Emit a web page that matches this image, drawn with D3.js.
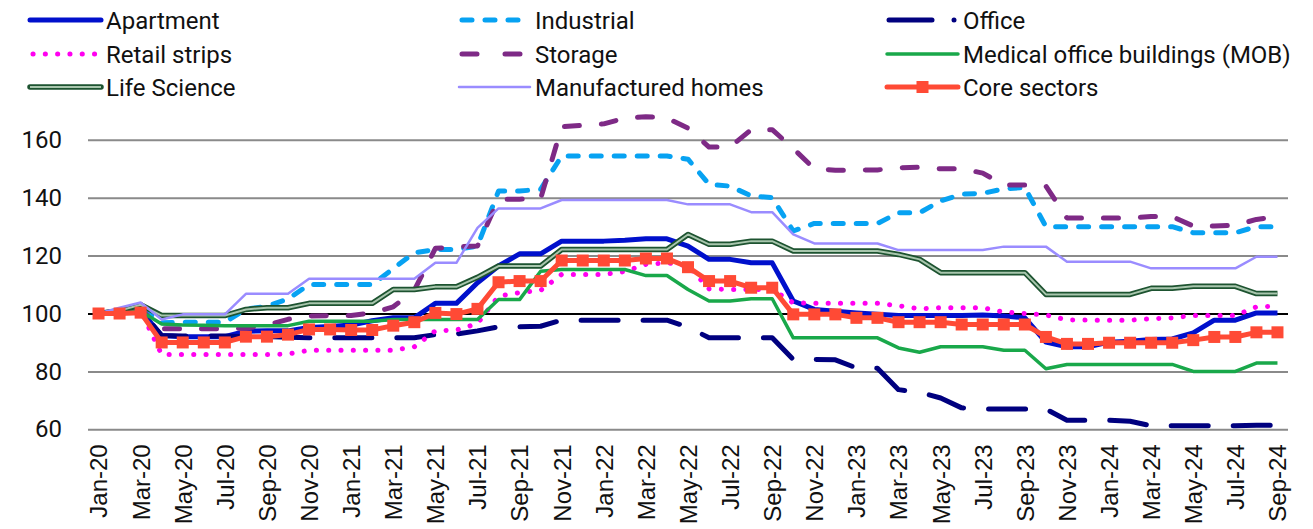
<!DOCTYPE html>
<html>
<head>
<meta charset="utf-8">
<script src="https://cdn.jsdelivr.net/npm/d3@7"></script>
<style>
  html, body { margin: 0; padding: 0; background: #fff; }
  svg { display: block; }
</style>
</head>
<body>
<div id="chart"></div>
<script>
// ---- data (monthly index, Jan-20 = 100) ----
const months = ["Jan-20","Feb-20","Mar-20","Apr-20","May-20","Jun-20","Jul-20","Aug-20","Sep-20","Oct-20","Nov-20","Dec-20",
  "Jan-21","Feb-21","Mar-21","Apr-21","May-21","Jun-21","Jul-21","Aug-21","Sep-21","Oct-21","Nov-21","Dec-21",
  "Jan-22","Feb-22","Mar-22","Apr-22","May-22","Jun-22","Jul-22","Aug-22","Sep-22","Oct-22","Nov-22","Dec-22",
  "Jan-23","Feb-23","Mar-23","Apr-23","May-23","Jun-23","Jul-23","Aug-23","Sep-23","Oct-23","Nov-23","Dec-23",
  "Jan-24","Feb-24","Mar-24","Apr-24","May-24","Jun-24","Jul-24","Aug-24","Sep-24"];

const apartment = [100,100.5,101,92.4,92,92,92,93.9,94,94,95.2,95.5,96,97.5,98.5,98.5,103.5,103.5,110.6,116.4,120.6,120.6,125,125,
  125,125.3,125.8,125.8,123.3,118.7,118.7,117.5,117.5,104.3,101.4,100.8,100.2,99.7,99.3,99.3,99.3,99.3,99.5,99.1,98.5,90.1,88.5,88.5,
  90.1,90.4,91,91.2,93.3,97.7,97.7,100.2,100.2];
const industrial = [100,101,102,96.8,97,97,97,101.5,102.5,105,110,110,110,110,115.5,121,122.1,122.1,123.3,142.3,142.3,142.9,154.4,154.4,
  154.4,154.4,154.4,154.4,153.3,144.6,144,140.6,140,128.5,131.1,131.1,131.1,131.1,134.8,134.8,138.9,141.2,141.5,143.1,143.5,130,130,130,
  130,130,130,130,127.9,127.9,127.9,130,130];
const office = [100,100.5,101,92.4,92.2,92.2,92.2,92,92,91.8,91.6,91.6,91.6,91.6,91.6,91.6,92.7,92.9,94,95.4,95.4,95.6,97.7,97.7,
  97.7,97.7,97.7,97.7,95.3,91.6,91.6,91.6,91.6,84.1,84.1,84,81.2,81.1,73.7,72.8,70.8,67.4,67,67,67,67,63.1,63.1,
  63.1,62.8,61.2,61.2,61.2,61.2,61.2,61.4,61.4];
const retail = [100,100.5,101,85.8,85.8,85.8,85.8,85.8,85.8,86,87.3,87.3,87.3,87.3,87.3,88.5,94,94.3,96.5,106,107.2,108,113.5,113.5,
  113.5,114.5,117,117.5,116.5,108.5,108.3,108.3,108.3,103.7,103.5,103.5,103.5,103.5,102.7,101.6,102,102,102,100.5,100,99.5,97.8,97.7,
  97.7,97.7,98.2,98.5,99.3,99.3,99.3,102.3,102.5];
const storage = [100,101,101.5,94.7,94.7,94.7,94.7,95,96,98,99.1,99.3,99.3,100.2,102.3,108,122.5,123,123.3,139.5,139.5,139.7,164.5,165,
  165.5,167.5,168,167.5,164,157.5,157.5,163.5,163.5,157,150,149.5,149.5,149.6,150.3,150.5,150,150,148.5,144.4,144.4,144,133,133,
  133,133,133.5,133.5,130.2,130.2,130.5,132.5,133.5];
const mob = [100,100.3,100.8,96.4,96,95.9,95.8,95.8,95.8,95.8,97.3,97.3,97.3,97.3,97.9,97.9,97.9,97.9,97.9,104.8,104.8,114.6,115.2,115.2,
  115.2,115.2,113.1,113.1,108.3,104.3,104.3,105.1,105.1,91.6,91.6,91.6,91.6,91.6,88.1,86.6,88.5,88.5,88.5,87.3,87.3,80.9,82.4,82.4,
  82.4,82.4,82.4,82.4,80,80,80,82.9,82.9];
const lifeScience = [100,101,103,99.3,99.3,99.3,99.3,101.4,102,102,103.5,103.5,103.5,103.5,108.3,108.3,109.2,109.2,112.5,116.4,116.4,116.4,122.1,122.1,
  122.1,122.1,122.1,122.1,127.3,123.9,123.9,125,125,121.6,121.6,121.6,121.6,121.6,120.4,118.7,114.1,114.1,114.1,114.1,114.1,106.6,106.6,106.6,
  106.6,106.6,108.7,108.7,109.4,109.4,109.4,106.9,106.9];
const manufactured = [100,102,103.8,97.9,99.7,99.7,99.7,106.8,106.8,106.8,112,112,112,112,112,112,117.5,117.5,129.6,136.3,136.3,136.3,139.2,139.2,
  139.2,139.2,139.2,139.2,137.7,137.7,137.7,135,135,127.3,124.2,124.2,124.2,124.2,121.9,121.9,121.9,121.9,121.9,123.1,123.1,123.1,117.9,117.9,
  117.9,117.9,115.6,115.6,115.6,115.6,115.6,119.6,119.6];
const core = [100,100,100.3,90,90,90,90,92,92,92.7,94.5,94.5,94.3,94.3,95.8,97,100.2,99.8,101.6,110.8,111.2,111.2,118.3,118.3,
  118.3,118.3,119,119,116,111.2,111.2,108.9,108.9,99.7,99.7,99.7,98.5,98.5,97,97,97,96.2,96.2,96.2,96.2,91.9,89.5,89.5,
  89.9,89.9,89.9,89.9,90.8,91.9,91.9,93.5,93.5];

const yTicks = [60, 80, 100, 120, 140, 160];
const xTickLabels = months.filter((d, i) => i % 2 === 0);

/***** series styling *****/
const series = [
  {name: "Apartment", values: apartment, color: "#0010CC", width: 5, dash: null},
  {name: "Industrial", values: industrial, color: "#07A2F2", width: 5, dash: "10,13"},
  {name: "Office", values: office, color: "#00007F", width: 5, dash: "37,25"},
  {name: "Retail strips", values: retail, color: "#FF00F0", width: 5, dash: "0.1,12.2"},
  {name: "Storage", values: storage, color: "#7E2A86", width: 5, dash: "15,22"},
  {name: "Medical office buildings (MOB)", values: mob, color: "#19A84A", width: 3.5, dash: null},
  {name: "Life Science", values: lifeScience, color: "#1D5330", width: 5.5, dash: null, inner: "#A8C6AD"},
  {name: "Manufactured homes", values: manufactured, color: "#9A8CFF", width: 2.5, dash: null},
  {name: "Core sectors", values: core, color: "#FF4A35", width: 5, dash: null, marker: true}
];
// legend order (row-major, 3 columns)
const legendOrder = ["Apartment","Industrial","Office","Retail strips","Storage","Medical office buildings (MOB)",
  "Life Science","Manufactured homes","Core sectors"];

/***** basic setup *****/
const width = 1313, height = 529;
const plotLeft = 88, plotRight = 1288;

const svg = d3.select("#chart").append("svg")
  .attr("width", width)
  .attr("height", height);

const x = d3.scalePoint()
  .domain(months)
  .range([plotLeft, plotRight])
  .padding(0.5);

const y = d3.scaleLinear()
  .domain([60, 160])
  .range([429.3, 139.8]);

/***** gridlines + y axis *****/
const yAxis = svg.append("g")
  .attr("transform", `translate(${plotLeft},0)`)
  .call(d3.axisLeft(y)
    .tickValues(yTicks)
    .tickSize(-(plotRight - plotLeft))
    .tickPadding(26));
yAxis.select(".domain").remove();
yAxis.selectAll("line")
  .attr("stroke", d => d === 100 ? "#000" : "#8a8a8a")
  .attr("stroke-width", d => d === 100 ? 2.2 : 2);
yAxis.selectAll("text")
  .style("font-family", "Roboto, sans-serif")
  .style("font-size", "24px")
  .attr("fill", "#111");

/***** x axis labels *****/
const xAxis = svg.append("g")
  .attr("transform", `translate(0,${y(60)})`)
  .call(d3.axisBottom(x).tickValues(xTickLabels).tickSize(0).tickPadding(0));
xAxis.select(".domain").remove();
xAxis.selectAll("text")
  .attr("transform", "translate(0,15) rotate(-90)")
  .attr("x", 0)
  .attr("y", 0)
  .attr("dy", "0.35em")
  .style("text-anchor", "end")
  .style("font-family", "'Liberation Sans', Arial, sans-serif")
  .style("font-size", "24px")
  .attr("fill", "#111");

/***** lines *****/
const line = d3.line()
  .x((d, i) => x(months[i]))
  .y(d => y(d));

const plot = svg.append("g");

series.forEach(s => {
  plot.append("path")
    .datum(s.values)
    .attr("d", line)
    .attr("fill", "none")
    .attr("stroke", s.color)
    .attr("stroke-width", s.width)
    .attr("stroke-linejoin", "round")
    .attr("stroke-linecap", s.dash ? "round" : "butt")
    .attr("stroke-dasharray", s.dash);
  if (s.inner) {
    plot.append("path")
      .datum(s.values)
      .attr("d", line)
      .attr("fill", "none")
      .attr("stroke", s.inner)
      .attr("stroke-width", 2)
      .attr("stroke-linejoin", "round");
  }
  if (s.marker) {
    plot.selectAll(".marker")
      .data(s.values)
      .enter()
      .append("rect")
      .attr("class", "marker")
      .attr("x", (d, i) => x(months[i]) - 6)
      .attr("y", d => y(d) - 6)
      .attr("width", 12)
      .attr("height", 12)
      .attr("fill", s.color);
  }
});

/***** legend *****/
const colX = [30, 459, 887];
const rowY = [20, 54, 87];
const legend = svg.append("g");

legendOrder.forEach((name, k) => {
  const s = series.find(d => d.name === name);
  const cx = colX[k % 3], cy = rowY[Math.floor(k / 3)];
  const g = legend.append("g").attr("transform", `translate(${cx},${cy})`);
  if (name === "Office") {
    g.append("line").attr("x1", 2).attr("x2", 45).attr("y1", 0).attr("y2", 0)
      .attr("stroke", s.color).attr("stroke-width", 5).attr("stroke-linecap", "round");
    g.append("circle").attr("cx", 67).attr("cy", 0).attr("r", 2.5).attr("fill", s.color);
  } else {
    g.append("line").attr("x1", s.dash ? 3 : 0).attr("x2", s.dash ? 68 : 71).attr("y1", 0).attr("y2", 0)
      .attr("stroke", s.color).attr("stroke-width", s.width)
      .attr("stroke-linecap", s.dash ? "round" : "round")
      .attr("stroke-dasharray", name === "Industrial" ? "10,13" : name === "Storage" ? "15,28" : s.dash);
    if (s.inner) {
      g.append("line").attr("x1", 0).attr("x2", 71).attr("y1", 0).attr("y2", 0)
        .attr("stroke", s.inner).attr("stroke-width", 2);
    }
    if (s.marker) {
      g.append("rect").attr("x", 29.5).attr("y", -6).attr("width", 12).attr("height", 12).attr("fill", s.color);
    }
  }
  g.append("text")
    .attr("x", 76)
    .attr("y", 0)
    .attr("dy", "0.36em")
    .style("font-family", "Roboto, sans-serif")
    .style("font-size", "24px")
    .attr("fill", "#111")
    .text(name);
});
</script>
</body>
</html>
